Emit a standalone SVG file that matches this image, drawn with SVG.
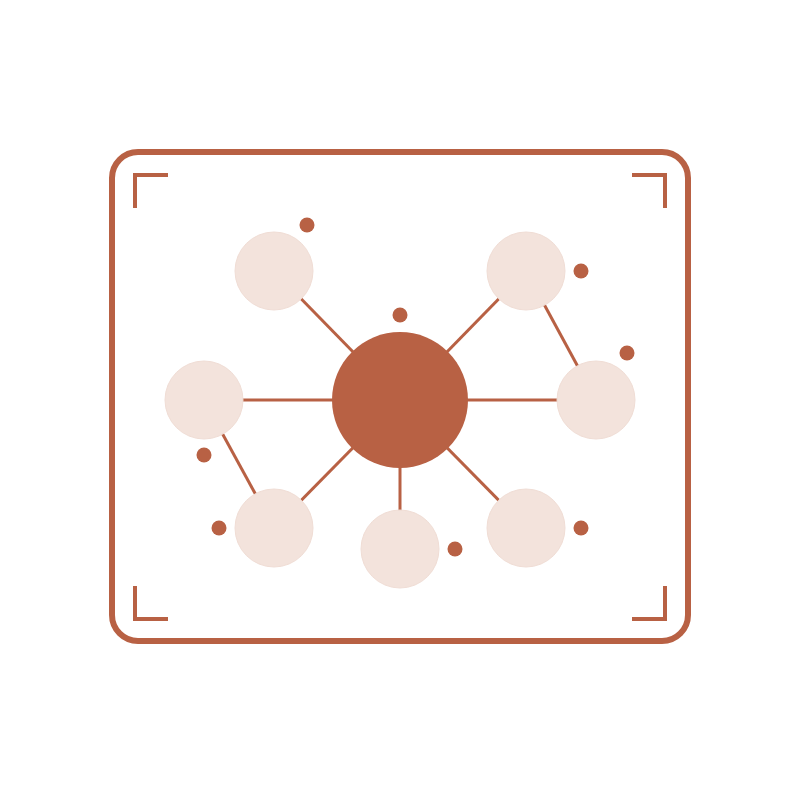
<svg xmlns="http://www.w3.org/2000/svg" width="800" height="800" viewBox="0 0 800 800">
<style>
.frame{fill:none;stroke:#B86144;stroke-width:6}
.bracket{fill:none;stroke:#B86144;stroke-width:4}
.edge{stroke:#B86144;stroke-width:3;fill:none}
.node{fill:#F3E3DC;stroke:#F0DDD5;stroke-width:1}
.hub{fill:#B86144}
.dot{fill:#B86144}
</style>
<rect width="800" height="800" fill="#FFFFFF"/>
<rect class="frame" x="112" y="152" width="576" height="489" rx="26" ry="26"/>
<g id="brackets">
<path class="bracket" d="M135,208 V175 H168"/>
<path class="bracket" d="M632,175 H665 V208"/>
<path class="bracket" d="M135,586 V619 H168"/>
<path class="bracket" d="M632,619 H665 V586"/>
</g>
<g id="connectors">
<line class="edge" x1="400" y1="400" x2="274" y2="271"/>
<line class="edge" x1="400" y1="400" x2="526" y2="271"/>
<line class="edge" x1="400" y1="400" x2="204" y2="400"/>
<line class="edge" x1="400" y1="400" x2="596" y2="400"/>
<line class="edge" x1="400" y1="400" x2="274" y2="528"/>
<line class="edge" x1="400" y1="400" x2="400" y2="549"/>
<line class="edge" x1="400" y1="400" x2="526" y2="528"/>
<line class="edge" x1="526" y1="271" x2="596" y2="400"/>
<line class="edge" x1="204" y1="400" x2="274" y2="528"/>
</g>
<g id="hub"><circle class="hub" cx="400" cy="400" r="68"/></g>
<g id="n1"><circle class="node" cx="274" cy="271" r="39"/></g>
<g id="n2"><circle class="node" cx="526" cy="271" r="39"/></g>
<g id="n3"><circle class="node" cx="204" cy="400" r="39"/></g>
<g id="n4"><circle class="node" cx="596" cy="400" r="39"/></g>
<g id="n5"><circle class="node" cx="274" cy="528" r="39"/></g>
<g id="n6"><circle class="node" cx="400" cy="549" r="39"/></g>
<g id="n7"><circle class="node" cx="526" cy="528" r="39"/></g>
<g id="dots">
<circle class="dot" cx="307" cy="225" r="7.5"/>
<circle class="dot" cx="400" cy="315" r="7.5"/>
<circle class="dot" cx="581" cy="271" r="7.5"/>
<circle class="dot" cx="627" cy="353" r="7.5"/>
<circle class="dot" cx="204" cy="455" r="7.5"/>
<circle class="dot" cx="219" cy="528" r="7.5"/>
<circle class="dot" cx="455" cy="549" r="7.5"/>
<circle class="dot" cx="581" cy="528" r="7.5"/>
</g>
</svg>
